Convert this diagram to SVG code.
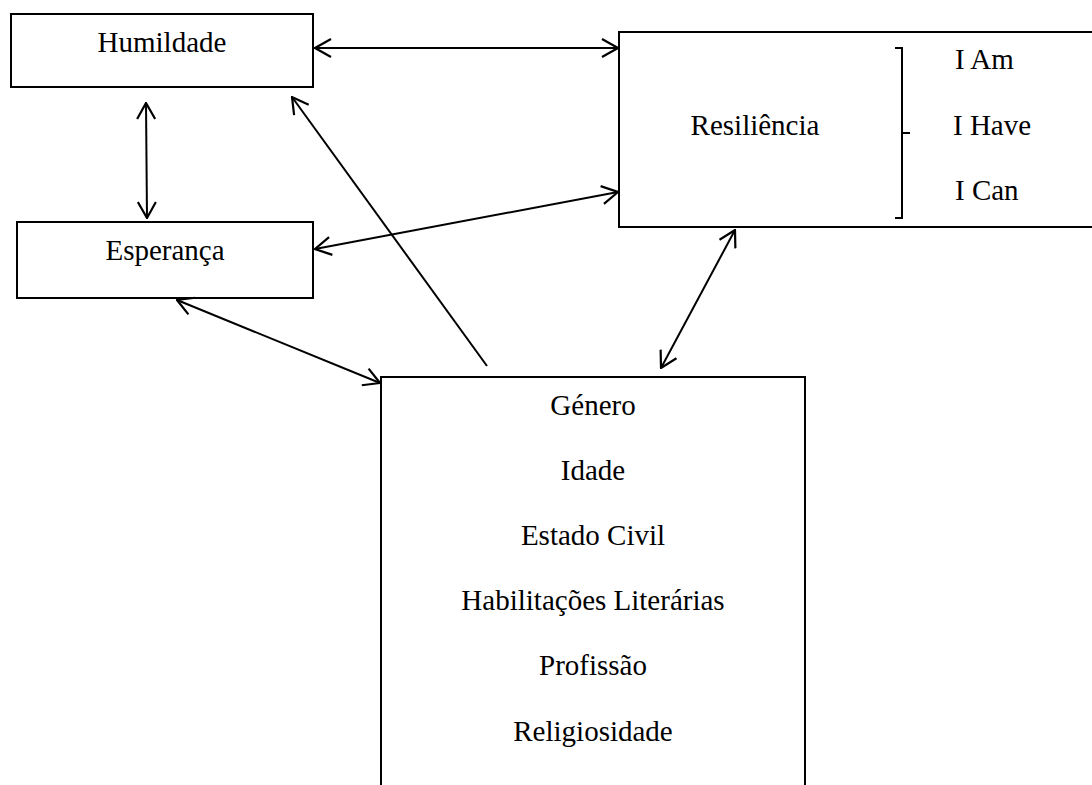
<svg xmlns="http://www.w3.org/2000/svg" width="1092" height="785" viewBox="0 0 1092 785">
  <style>
    .box { fill: #fff; stroke: #000; stroke-width: 2; }
    .lbl { font-family: "Liberation Serif", "Times New Roman", serif; font-size: 29px; fill: #000; }
    .c { text-anchor: middle; }
    .conn { stroke: #000; stroke-width: 2; fill: none; }
  </style>
  <defs>
    <marker id="ah" viewBox="0 0 18 20" markerWidth="18" markerHeight="20" refX="17" refY="10" orient="auto-start-reverse" markerUnits="userSpaceOnUse">
      <path d="M1,1 L17,10 L1,19" fill="none" stroke="#000" stroke-width="2.2"/>
    </marker>
  </defs>
  <rect width="1092" height="785" fill="#fff"/>

  <g id="humildade">
    <rect class="box" x="11" y="14" width="302" height="73"/>
    <text class="lbl c" x="162" y="52">Humildade</text>
  </g>

  <g id="esperanca">
    <rect class="box" x="17" y="222" width="296" height="76"/>
    <text class="lbl c" x="165" y="260">Esperança</text>
  </g>

  <g id="resiliencia">
    <rect class="box" x="619" y="32" width="490" height="195"/>
    <text class="lbl c" x="755" y="135">Resiliência</text>
    <path class="conn" d="M895,48 L902,48 L902,218 L895,218 M902,133 L910,133"/>
    <text class="lbl" x="955" y="69">I Am</text>
    <text class="lbl" x="953" y="135">I Have</text>
    <text class="lbl" x="955" y="200">I Can</text>
  </g>

  <g id="sociodemograficas">
    <rect class="box" x="381" y="377" width="424" height="430"/>
    <text class="lbl c" x="593" y="415">Género</text>
    <text class="lbl c" x="593" y="480">Idade</text>
    <text class="lbl c" x="593" y="545">Estado Civil</text>
    <text class="lbl c" x="593" y="610">Habilitações Literárias</text>
    <text class="lbl c" x="593" y="675">Profissão</text>
    <text class="lbl c" x="593" y="741">Religiosidade</text>
  </g>

  <g id="connectors">
    <line class="conn" x1="315" y1="48" x2="618" y2="48" marker-start="url(#ah)" marker-end="url(#ah)"/>
    <line class="conn" x1="146" y1="103" x2="147" y2="218" marker-start="url(#ah)" marker-end="url(#ah)"/>
    <line class="conn" x1="315" y1="249" x2="618" y2="192" marker-start="url(#ah)" marker-end="url(#ah)"/>
    <line class="conn" x1="177" y1="300" x2="380" y2="383" marker-start="url(#ah)" marker-end="url(#ah)"/>
    <line class="conn" x1="487" y1="366" x2="292" y2="97" marker-end="url(#ah)"/>
    <line class="conn" x1="735" y1="230" x2="661" y2="368" marker-start="url(#ah)" marker-end="url(#ah)"/>
  </g>
</svg>
